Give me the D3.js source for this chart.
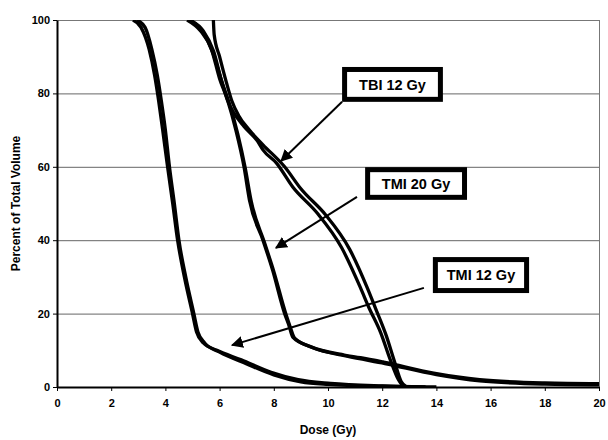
<!DOCTYPE html>
<html>
<head>
<meta charset="utf-8">
<script src="https://cdn.jsdelivr.net/npm/d3@7"></script>
<style>
	body { margin: 0; background: #fff; }
	svg text { font-family: "Liberation Sans", Arial, sans-serif; font-weight: bold; }
</style>
</head>
<body>
<div class="chart"></div>
<script>
// dose-volume curves, [dose Gy, percent volume]
var tmi12a = [[2.8,100],[3.1,98],[3.4,92],[3.6,85],[3.75,78],[3.9,70],[4.08,60],[4.27,50],[4.45,40],[4.7,30],[5.0,20],[5.15,15],[5.4,12],[5.9,10],[6.8,7.4],[7.9,4],[8.9,2],[10.1,1],[12,0.3],[13.6,0]];
var tmi12b = [[2.95,100],[3.25,98],[3.5,92],[3.7,85],[3.85,78],[4.0,70],[4.15,60],[4.33,50],[4.5,40],[4.75,30],[5.05,20],[5.2,15],[5.45,12],[6,9.5],[7,6.3],[8,3.3],[9,1.4],[10,0.7],[12,0.2],[14,0]];
var tmi20a = [[4.8,100],[5.3,97],[5.7,92],[6.0,84],[6.3,78],[6.6,70],[6.9,60],[7.1,51],[7.6,40],[7.95,32],[8.4,20],[8.55,17],[8.7,13.6],[9.35,11],[10.6,8.7],[11.2,8],[12.05,6.8],[13.9,3.8],[15.6,2],[18,1.1],[20,0.9]];
var tmi20b = [[4.9,100],[5.4,97],[5.78,91.5],[6.07,83.5],[6.37,77],[6.67,69],[6.95,59.5],[7.17,50.5],[7.65,39.5],[8.0,31.5],[8.42,20.5],[8.6,16.5],[8.77,13.3],[9.45,10.7],[10.7,8.4],[12.1,6.4],[14,3.4],[15.6,1.7],[18,0.8],[20,0.6]];
var tbi12a = [[4.9,100],[5.4,96.5],[5.75,91],[6.05,84],[6.3,78],[6.5,75],[6.9,71],[7.4,67],[7.6,64.6],[8.1,61],[8.7,54.5],[9.6,47.4],[10.5,38],[11.2,27],[11.5,21.8],[11.95,14.7],[12.3,7.4],[12.6,2],[12.8,0]];
var tbi12b = [[5.77,100],[5.8,96],[6.0,90],[6.25,83],[6.45,78],[6.7,74],[7.1,70],[7.6,66],[8.4,60],[9.0,54],[9.9,47],[10.8,37.5],[11.45,27],[11.75,21.5],[12.15,14],[12.45,7],[12.7,1.5],[12.9,0]];

var curves = [tmi12a, tmi12b, tmi20a, tmi20b, tbi12a, tbi12b];

var xTicks = [0, 2, 4, 6, 8, 10, 12, 14, 16, 18, 20];
var yTicks = [0, 20, 40, 60, 80, 100];

// callout boxes: label, box corners (dose, %), arrow start and tip (dose, %)
var callouts = [
	{ label: "TBI 12 Gy", box: [10.52, 87.2, 14.24, 77.7], from: [10.52, 77.7], to: [8.27, 61.6] },
	{ label: "TMI 20 Gy", box: [11.37, 59.9, 15.13, 51.0], from: [11.07, 51.8], to: [8.08, 37.9] },
	{ label: "TMI 12 Gy", box: [13.87, 35.4, 17.42, 25.6], from: [13.54, 27.0], to: [6.46, 11.4] }
];

var margin = { top: 20, right: 9, bottom: 53, left: 57 },
	width = 608 - margin.left - margin.right,
	height = 440 - margin.top - margin.bottom;

var svg = d3.select(".chart").append("svg")
	.attr("width", 608)
	.attr("height", 440)
	.append("g")
	.attr("transform", "translate(" + margin.left + "," + margin.top + ")");

var x = d3.scaleLinear().domain([0, 20]).range([0, width]),
	y = d3.scaleLinear().domain([0, 100]).range([height, 0]);

svg.append("defs").append("clipPath")
	.attr("id", "plot-clip")
	.append("rect")
	.attr("width", width)
	.attr("height", height);

svg.append("defs").append("marker")
	.attr("id", "arrowhead")
	.attr("viewBox", "0 0 10 10")
	.attr("refX", 9)
	.attr("refY", 5)
	.attr("markerWidth", 6)
	.attr("markerHeight", 6)
	.attr("markerUnits", "strokeWidth")
	.attr("orient", "auto")
	.append("path")
	.attr("d", "M0,0 L10,5 L0,10 z")
	.attr("fill", "#000");

// gridlines
svg.selectAll(".grid")
	.data(yTicks.filter(function (d) { return d > 0 && d < 100; }))
	.enter().append("line")
	.attr("x1", 0)
	.attr("x2", width)
	.attr("y1", function (d) { return y(d) + 0.5; })
	.attr("y2", function (d) { return y(d) + 0.5; })
	.attr("stroke", "#666")
	.attr("stroke-width", 1);

// top and right border
svg.append("line")
	.attr("x1", 0).attr("x2", width + 0.5)
	.attr("y1", 0.5).attr("y2", 0.5)
	.attr("stroke", "#777");
svg.append("line")
	.attr("x1", width + 0.5).attr("x2", width + 0.5)
	.attr("y1", 0).attr("y2", height)
	.attr("stroke", "#777");

var line = d3.line()
	.x(function (d) { return x(d[0]); })
	.y(function (d) { return y(d[1]); })
	.curve(d3.curveMonotoneX);

svg.append("g")
	.attr("clip-path", "url(#plot-clip)")
	.selectAll("path")
	.data(curves)
	.enter().append("path")
	.attr("d", line)
	.attr("fill", "none")
	.attr("stroke", "#000")
	.attr("stroke-width", 3.3)
	.attr("stroke-linejoin", "round");

// axes
var xAxis = d3.axisBottom(x).tickValues(xTicks).tickSize(4).tickSizeOuter(0).tickPadding(8),
	yAxis = d3.axisLeft(y).tickValues(yTicks).tickSize(4).tickSizeOuter(0).tickPadding(3);

var gx = svg.append("g")
	.attr("transform", "translate(0," + height + ")")
	.call(xAxis);
var gy = svg.append("g")
	.call(yAxis);

[gx, gy].forEach(function (g) {
	g.select(".domain").attr("stroke", "#000").attr("stroke-width", 2);
	g.selectAll(".tick line").attr("stroke", "#000");
	g.selectAll(".tick text")
		.attr("fill", "#000")
		.style("font-size", "11px")
		.style("font-family", "'Liberation Sans', Arial, sans-serif")
		.style("font-weight", "bold");
});

svg.append("text")
	.attr("x", width / 2)
	.attr("y", height + 47)
	.attr("text-anchor", "middle")
	.style("font-size", "12px")
	.text("Dose (Gy)");

svg.append("text")
	.attr("transform", "rotate(-90)")
	.attr("x", -height / 2)
	.attr("y", -margin.left + 20)
	.attr("text-anchor", "middle")
	.style("font-size", "12px")
	.text("Percent of Total Volume");

// callouts
var co = svg.selectAll(".callout")
	.data(callouts)
	.enter().append("g")
	.classed("callout", true);

co.append("line")
	.attr("x1", function (d) { return x(d.from[0]); })
	.attr("y1", function (d) { return y(d.from[1]); })
	.attr("x2", function (d) { return x(d.to[0]); })
	.attr("y2", function (d) { return y(d.to[1]); })
	.attr("stroke", "#000")
	.attr("stroke-width", 2)
	.attr("marker-end", "url(#arrowhead)");

co.append("rect")
	.attr("x", function (d) { return x(d.box[0]) + 2.5; })
	.attr("y", function (d) { return y(d.box[1]) + 2.5; })
	.attr("width", function (d) { return x(d.box[2]) - x(d.box[0]) - 5; })
	.attr("height", function (d) { return y(d.box[3]) - y(d.box[1]) - 5; })
	.attr("fill", "#fff")
	.attr("stroke", "#000")
	.attr("stroke-width", 5);

co.append("text")
	.attr("x", function (d) { return (x(d.box[0]) + x(d.box[2])) / 2; })
	.attr("y", function (d) { return (y(d.box[1]) + y(d.box[3])) / 2; })
	.attr("dy", "0.36em")
	.attr("text-anchor", "middle")
	.style("font-size", "14.5px")
	.text(function (d) { return d.label; });
</script>
</body>
</html>
